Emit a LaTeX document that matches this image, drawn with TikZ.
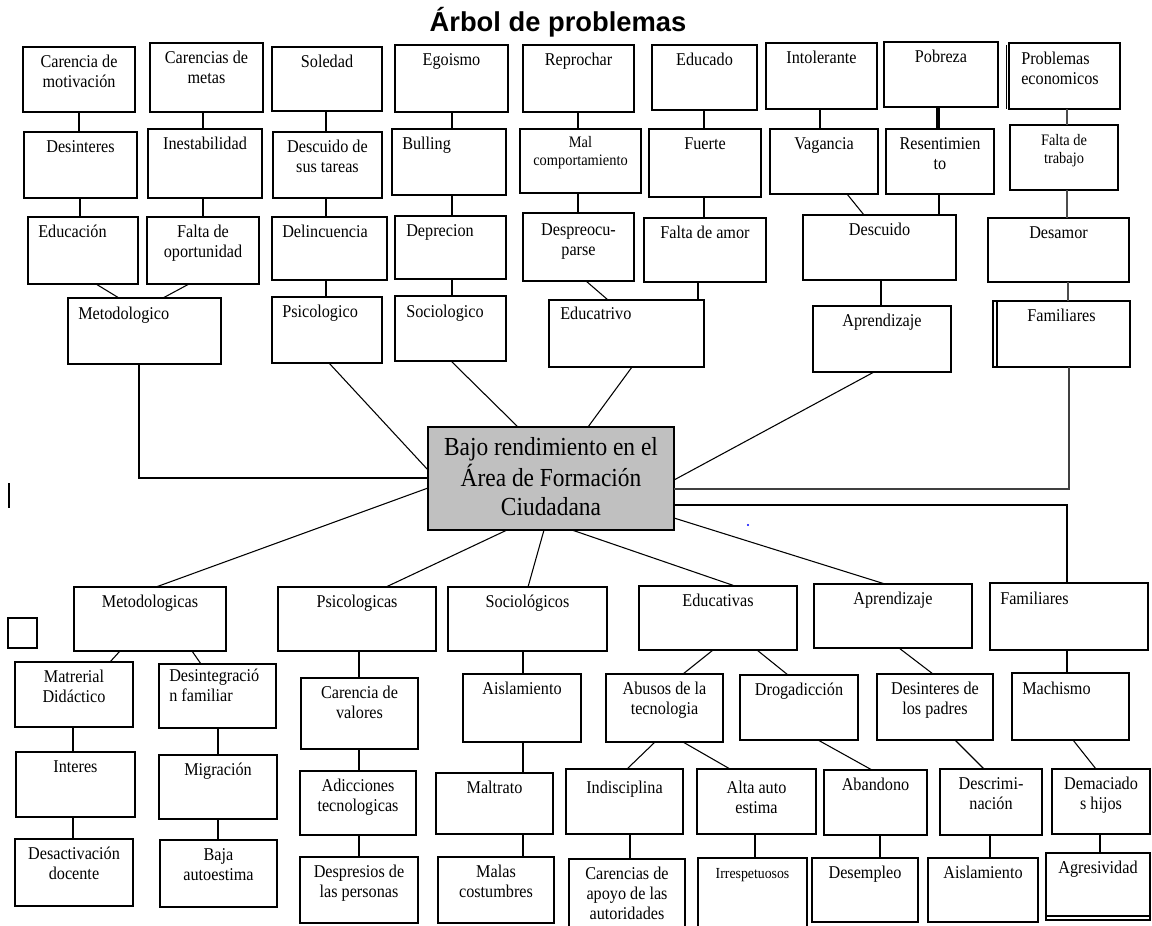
\documentclass[tikz,border=0pt]{standalone}
\usepackage{fontspec}
\setmainfont{Liberation Serif}[FakeStretch=0.9]
\newfontfamily\titlefont{Liberation Sans}
\usetikzlibrary{fit,calc}
\definecolor{cgray}{RGB}{192,192,192}
\tikzset{
 box/.style={draw=black, fill=white, line width=1pt, inner sep=0pt, outer sep=0pt, rectangle},
 tb/.style={line width=1.9pt},
 side/.style={draw=black, line width=2.2pt, line cap=rect},
 txt/.style={inner sep=0pt, anchor=base, font=\fontsize{13.5}{15}\selectfont},
 sm/.style={font=\fontsize{12}{14}\selectfont},
 ln/.style={draw=black, line width=0.8pt},
 thk/.style={ln, line width=2.2pt},
 vthk/.style={ln, line width=3.6pt},
}
\newcommand\tc[1]{\begin{tabular}[t]{@{}c@{}}#1\end{tabular}}
\newcommand\tl[1]{\begin{tabular}[t]{@{}l@{}}#1\end{tabular}}
% \bx{boxopts}{textopts}{name}{x1}{y1}{x2}{y2}{text}
\newcommand\bx[8]{\node[box,#1,fit={(#4,#5)(#6,#7)}] (#3) {};
 \node[txt,at={($(#3.north)+(0,20)$)},#2] {\tc{#8}};}
\newcommand\vl[4][]{\draw[ln,#1] (#2.south -| #4,0) -- (#3.north -| #4,0);}
\newcommand\dl[5][]{\draw[ln,#1] (#2.south -| #3,0) -- (#4.north -| #5,0);}
\begin{document}
\begin{tikzpicture}[x=0.75pt,y=-0.75pt]
\useasboundingbox (0,0) rectangle (1152,925);
\clip (0,0) rectangle (1152,925);
\fill[white] (0,0) rectangle (1152,925);

\node[anchor=base, inner sep=0pt, font=\titlefont\bfseries\fontsize{20.5}{24}\selectfont] (title) at (558,31) {Árbol de problemas};

% ---------- row 1
\bx{}{}{t1a}{23}{47}{135}{112}{Carencia de\\motivación}
\bx{}{}{t1b}{150}{43}{263}{112}{Carencias de\\metas}
\bx{}{}{t1c}{272}{47}{382}{111}{Soledad}
\bx{}{}{t1d}{395}{45}{508}{112}{Egoismo}
\bx{}{}{t1e}{523}{45}{634}{112}{Reprochar}
\bx{}{}{t1f}{652}{45}{757}{110}{Educado}
\bx{}{}{t1g}{766}{43}{877}{109}{Intolerante}
\bx{}{}{t1h}{884}{42}{998}{107}{Pobreza}
\bx{}{anchor=base west,at={(1021,64)}}{t1i}{1009}{43}{1120}{109}{\tl{Problemas\\economicos}}
% ---------- row 2
\bx{}{}{t2a}{24}{132}{137}{198}{Desinteres}
\bx{}{}{t2b}{148}{129}{262}{198}{Inestabilidad}
\bx{}{}{t2c}{273}{132}{382}{198}{Descuido de\\sus tareas}
\bx{}{anchor=base west,at={(402,149)}}{t2d}{392}{129}{506}{195}{Bulling}
\bx{}{sm,at={(580.5,147)}}{t2e}{520}{129}{641}{193}{Mal\\comportamiento}
\bx{}{}{t2f}{649}{129}{761}{197}{Fuerte}
\bx{}{}{t2g}{770}{129}{878}{194}{Vagancia}
\bx{tb}{}{t2h}{886}{129}{994}{194}{Resentimien\\to}
\bx{tb}{sm}{t2i}{1010}{125}{1118}{190}{Falta de\\trabajo}
% ---------- row 3
\bx{}{anchor=base west,at={(38,237)}}{t3a}{28}{217}{138}{284}{Educación}
\bx{}{}{t3b}{147}{217}{259}{284}{Falta de\\oportunidad}
\bx{}{anchor=base west,at={(282,237)}}{t3c}{272}{217}{387}{280}{Delincuencia}
\bx{tb}{anchor=base west,at={(406,236)}}{t3d}{395}{216}{506}{279}{Deprecion}
\bx{}{at={(578.5,235)}}{t3e}{523}{213}{634}{281}{Despreocu-\\parse}
\bx{}{}{t3f}{644}{218}{766}{282}{Falta de amor}
\bx{}{}{t3g}{803}{215}{956}{280}{Descuido}
\bx{}{}{t3h}{988}{218}{1129}{282}{Desamor}
% ---------- row 4
\bx{}{anchor=base west,at={(78,319)}}{t4a}{68}{298}{221}{364}{Metodologico}
\bx{}{anchor=base west,at={(282,317)}}{t4b}{272}{297}{382}{363}{Psicologico}
\bx{tb}{anchor=base west,at={(406,317)}}{t4c}{395}{296}{506}{361}{Sociologico}
\bx{}{anchor=base west,at={(560,319)}}{t4d}{549}{300}{704}{367}{Educatrivo}
\bx{}{}{t4e}{813}{306}{951}{372}{Aprendizaje}
\bx{}{}{t4f}{993}{301}{1130}{367}{Familiares}

% thick sides (top part)
\draw[side] (t1g.north west) -- (t1g.north east);
\draw[side] (t1h.south west) -- (t1h.south east);
\draw[side] (t2g.south west) -- (t2g.south east);
\draw[side] (t3g.south west) -- (t3g.south east);
\draw[side] (t3c.south west) -- (t3c.south east);
\draw[side] (t3a.north west) -- (t3a.south west);
\draw[side] (t4d.north east) -- (t4d.south east);
\draw[side] (t4e.north west) -- (t4e.north east);
\draw[side] (t2a.north east) -- (t2a.south east);
\draw[ln] ([xshift=-1.8pt,yshift=-1.5pt]t1i.north west) -- ([xshift=-1.8pt]t1i.south west);
\draw[ln] ([xshift=3pt]t4f.north west) -- ([xshift=3pt]t4f.south west);

% ---------- connectors top
\vl{t1a}{t2a}{79}
\vl{t1b}{t2b}{203}
\vl{t1c}{t2c}{326}
\vl{t1d}{t2d}{452}
\vl[thk]{t1e}{t2e}{578}
\vl[line width=1.6pt]{t1f}{t2f}{704}
\vl[line width=1.6pt]{t1g}{t2g}{820}
\vl[vthk]{t1h}{t2h}{938}
\vl[draw=black!70]{t1i}{t2i}{1067}
\vl{t2a}{t3a}{80}
\vl{t2b}{t3b}{203}
\vl{t2c}{t3c}{326}
\vl{t2d}{t3d}{452}
\vl[thk]{t2e}{t3e}{578}
\vl[thk]{t2f}{t3f}{704}
\dl{t2g}{847}{t3g}{864}
\vl{t2h}{t3g}{939}
\vl[draw=black!70]{t2i}{t3h}{1067}
\dl{t3a}{96}{t4a}{119}
\dl{t3b}{189}{t4a}{163}
\vl{t3c}{t4b}{326}
\vl{t3d}{t4c}{452}
\dl{t3e}{586}{t4d}{608}
\vl{t3f}{t4d}{698}
\vl[thk]{t3g}{t4e}{881}
\vl[draw=black!70]{t3h}{t4f}{1068}

% ---------- center
\node[box, fill=cgray, line width=1.2pt, fit={(428,427)(674,530)}] (c) {};
\node[txt, font=\fontsize{19.5}{21.75}\selectfont] at ($(c.north)+(0,28)$) {\tc{Bajo rendimiento en el\\Área de Formación\\Ciudadana}};

\draw[ln] (t4a.south -| 139,0) |- (c.west |- 0,478);
\draw[ln] (t4b.south -| 329,0) -- (c.west |- 0,470);
\draw[ln] (t4c.south -| 451,0) -- (c.north -| 518,0);
\draw[ln] (t4d.south -| 632,0) -- (c.north -| 588,0);
\draw[ln] (t4e.south -| 874,0) -- (c.east |- 0,480);
\draw[ln, draw=black!75, line width=1pt] (t4f.south -| 1069,0) |- (c.east |- 0,489);

% ---------- bottom row 1
\bx{}{}{b1a}{74}{587}{226}{651}{Metodologicas}
\bx{}{}{b1b}{278}{587}{436}{651}{Psicologicas}
\bx{}{}{b1c}{448}{587}{607}{651}{Sociológicos}
\bx{}{}{b1d}{639}{586}{797}{650}{Educativas}
\bx{}{}{b1e}{814}{584}{972}{648}{Aprendizaje}
\bx{}{anchor=base west,at={(1000,604)}}{b1f}{990}{583}{1148}{650}{Familiares}
\node[box, fit={(8,618)(37,648)}] (sq) {};
% row 2
\bx{}{}{b2a}{15}{662}{133}{727}{Matrerial\\Didáctico}
\bx{}{anchor=base west,at={(169,681)}}{b2b}{159}{664}{276}{728}{\tl{Desintegració\\n familiar}}
\bx{}{}{b2c}{301}{678}{418}{749}{Carencia de\\valores}
\bx{}{}{b2d}{463}{674}{581}{742}{Aislamiento}
\bx{}{}{b2e}{606}{674}{723}{742}{Abusos de la\\tecnologia}
\bx{}{}{b2f}{740}{675}{858}{740}{Drogadicción}
\bx{tb}{}{b2g}{877}{674}{993}{740}{Desinteres de\\los padres}
\bx{}{anchor=base west,at={(1022,694)}}{b2h}{1012}{673}{1129}{740}{Machismo}
% row 3
\bx{}{}{b3a}{16}{752}{135}{817}{Interes}
\bx{}{}{b3b}{159}{755}{277}{819}{Migración}
\bx{tb}{}{b3c}{300}{771}{416}{835}{Adicciones\\tecnologicas}
\bx{}{}{b3d}{436}{773}{553}{834}{Maltrato}
\bx{tb}{at={(624.5,793)}}{b3e}{566}{769}{683}{834}{Indisciplina}
\bx{tb}{at={(756.5,793)}}{b3f}{697}{769}{816}{834}{Alta auto\\estima}
\bx{}{}{b3g}{824}{770}{927}{835}{Abandono}
\bx{}{}{b3h}{940}{769}{1042}{835}{Descrimi-\\nación}
\bx{}{}{b3i}{1052}{769}{1150}{834}{Demaciado\\s hijos}
% row 4
\bx{}{}{b4a}{15}{839}{133}{906}{Desactivación\\docente}
\bx{}{}{b4b}{160}{840}{277}{907}{Baja\\autoestima}
\bx{}{}{b4c}{300}{857}{418}{923}{Despresios de\\las personas}
\bx{}{}{b4d}{438}{857}{554}{923}{Malas\\costumbres}
\bx{}{at={(627,879)}}{b4e}{569}{859}{685}{935}{Carencias de\\apoyo de las\\autoridades}
\bx{}{font=\fontsize{11.5}{13}\selectfont}{b4f}{698}{858}{807}{935}{Irrespetuosos}
\bx{}{}{b4g}{812}{858}{918}{922}{Desempleo}
\bx{}{}{b4h}{928}{858}{1038}{922}{Aislamiento}
\bx{}{}{b4i}{1046}{853}{1150}{920}{Agresividad}

% thick sides (bottom part)
\draw[side] (b1f.north west) -- (b1f.north east);
\draw[side] (b2a.north west) -- (b2a.north east);
\draw[side] (b2b.south west) -- (b2b.south east);
\draw[side] (b3b.north west) -- (b3b.north east);
\draw[side] (b3b.south west) -- (b3b.south east);
\draw[side] (b2d.north west) -- (b2d.south west);
\draw[side] (b2f.north west) -- (b2f.south west) -- (b2f.south east);
\draw[side] (b3d.south west) -- (b3d.south east);
\draw[side] (b3h.north west) -- (b3h.north east);
\draw[side] (b3i.north west) -- (b3i.south west) -- (b3i.south east);
\draw[side] (b4b.north west) -- (b4b.south west);
\draw[side] (b4c.north west) -- (b4c.south west);
\draw[side] (b4e.north west) -- (b4e.south west);
\draw[side] (b4f.south west) -- (b4f.north west) -- (b4f.north east);
\draw[side] (b4h.north west) -- (b4h.north east);
\draw[ln] ([yshift=3pt]b4i.south west) -- ([yshift=3pt]b4i.south east);

% ---------- connectors bottom
\draw[ln] (c.west |- 0,488) -- (b1a.north -| 156,0);
\draw[ln] (c.south -| 507,0) -- (b1b.north -| 386,0);
\draw[ln] (c.south -| 544,0) -- (b1c.north -| 528,0);
\draw[ln] (c.south -| 572,0) -- (b1d.north -| 735,0);
\draw[ln] (c.east |- 0,518) -- (b1e.north -| 885,0);
\draw[thk] (c.east |- 0,505) -| (b1f.north -| 1067,0);

\dl{b1a}{120}{b2a}{110}
\dl{b1a}{192}{b2b}{201}
\vl{b2a}{b3a}{73}
\vl{b3a}{b4a}{73}
\vl{b2b}{b3b}{218}
\vl{b3b}{b4b}{218}
\vl{b1b}{b2c}{359}
\vl{b2c}{b3c}{359}
\vl{b3c}{b4c}{359}
\vl{b1c}{b2d}{523}
\vl{b2d}{b3d}{523}
\vl{b3d}{b4d}{523}
\dl{b1d}{713}{b2e}{683}
\dl{b1d}{757}{b2f}{788}
\dl{b2e}{655}{b3e}{627}
\dl{b2e}{683}{b3f}{730}
\vl[thk]{b3e}{b4e}{630}
\vl[thk]{b3f}{b4f}{755}
\dl{b2f}{818}{b3g}{872}
\vl{b3g}{b4g}{880}
\dl{b1e}{899}{b2g}{933}
\dl{b2g}{955}{b3h}{984}
\vl[thk]{b3h}{b4h}{990}
\vl{b1f}{b2h}{1067}
\dl{b2h}{1073}{b3i}{1096}
\vl[thk]{b3i}{b4i}{1100}

% stray marks
\draw[ln] (9,483) -- (9,508);
\fill[blue] (748,525) circle (1.2);
\end{tikzpicture}
\end{document}
